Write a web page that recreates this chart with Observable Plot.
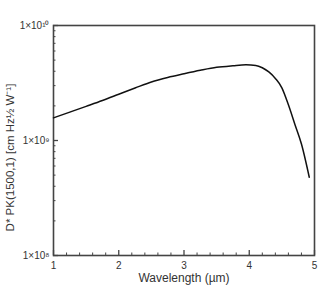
<!DOCTYPE html>
<html>
<head>
<meta charset="utf-8">
<script src="https://cdn.jsdelivr.net/npm/d3@7"></script>
<script src="https://cdn.jsdelivr.net/npm/@observablehq/plot@0.6"></script>
<style>
  html, body { margin: 0; padding: 0; background: #fff; }
  #chart svg { display: block; }
</style>
</head>
<body>
<div id="chart"></div>
<script>
// Spectral detectivity curve, D* vs wavelength
const wavelength = [1.0, 1.25, 1.5, 1.75, 2.0, 2.25, 2.5, 2.75, 3.0, 3.25, 3.5, 3.75, 3.95, 4.1, 4.2, 4.3, 4.4, 4.5, 4.6, 4.7, 4.8, 4.92];
const detectivity = [1.574e9, 1.766e9, 1.982e9, 2.228e9, 2.523e9, 2.858e9, 3.228e9, 3.532e9, 3.802e9, 4.074e9, 4.325e9, 4.467e9, 4.55e9, 4.498e9, 4.295e9, 3.945e9, 3.467e9, 2.871e9, 2.042e9, 1.38e9, 0.933e9, 0.479e9];

const xMajor = [1, 2, 3, 4, 5];
const xMinor = [1.2, 1.4, 1.6, 1.8, 2.2, 2.4, 2.6, 2.8, 3.2, 3.4, 3.6, 3.8, 4.2, 4.4, 4.6, 4.8];
const yMajor = [1e8, 1e9, 1e10];
const yMajorLabels = ["1×10⁸", "1×10⁹", "1×10¹⁰"];
const yMinor = [2e8, 3e8, 4e8, 5e8, 6e8, 7e8, 8e8, 9e8, 2e9, 3e9, 4e9, 5e9, 6e9, 7e9, 8e9, 9e9];

const xTitle = "Wavelength (µm)";
const yTitle = "D* PK(1500,1) [cm Hz½ W⁻¹]";

const data = wavelength.map((w, i) => ({w, d: detectivity[i]}));
const frameColor = "#444";
const textColor = "#333";

const chart = Plot.plot({
  width: 321,
  height: 288,
  marginLeft: 53,
  marginRight: 7,
  marginTop: 25,
  marginBottom: 33,
  style: {fontFamily: "Liberation Sans, Arial, sans-serif", fontSize: "10px", color: textColor, background: "#fff"},
  x: {domain: [1, 5]},
  y: {type: "log", domain: [1e8, 1e10]},
  marks: [
    Plot.frame({stroke: frameColor, strokeWidth: 1.6}),
    // bottom axis: inward major and minor ticks
    Plot.axisX({ticks: xMajor, tickSize: -5, tickPadding: 11, stroke: frameColor, strokeWidth: 1.3, tickFormat: d => String(d), fill: textColor, label: null}),
    Plot.axisX({ticks: xMinor, tickSize: -2.5, text: null, stroke: frameColor, label: null}),
    // left axis: inward decade and sub-decade ticks
    Plot.axisY({ticks: yMajor, tickSize: -5, tickPadding: 9, stroke: frameColor, strokeWidth: 1.3, tickFormat: d => yMajorLabels[yMajor.indexOf(d)], fill: textColor, label: null}),
    Plot.axisY({ticks: yMinor, tickSize: -2.5, text: null, stroke: frameColor, label: null}),
    Plot.line(data, {x: "w", y: "d", curve: "monotone-x", stroke: "#111", strokeWidth: 1.5}),
    Plot.text([xTitle], {frameAnchor: "bottom", dy: 26, fontSize: 12, fill: textColor}),
    Plot.text([yTitle], {frameAnchor: "left", textAnchor: "middle", dx: -43, dy: 17, rotate: -90, fontSize: 11.5, fill: textColor})
  ]
});
document.getElementById("chart").appendChild(chart);
</script>
</body>
</html>
